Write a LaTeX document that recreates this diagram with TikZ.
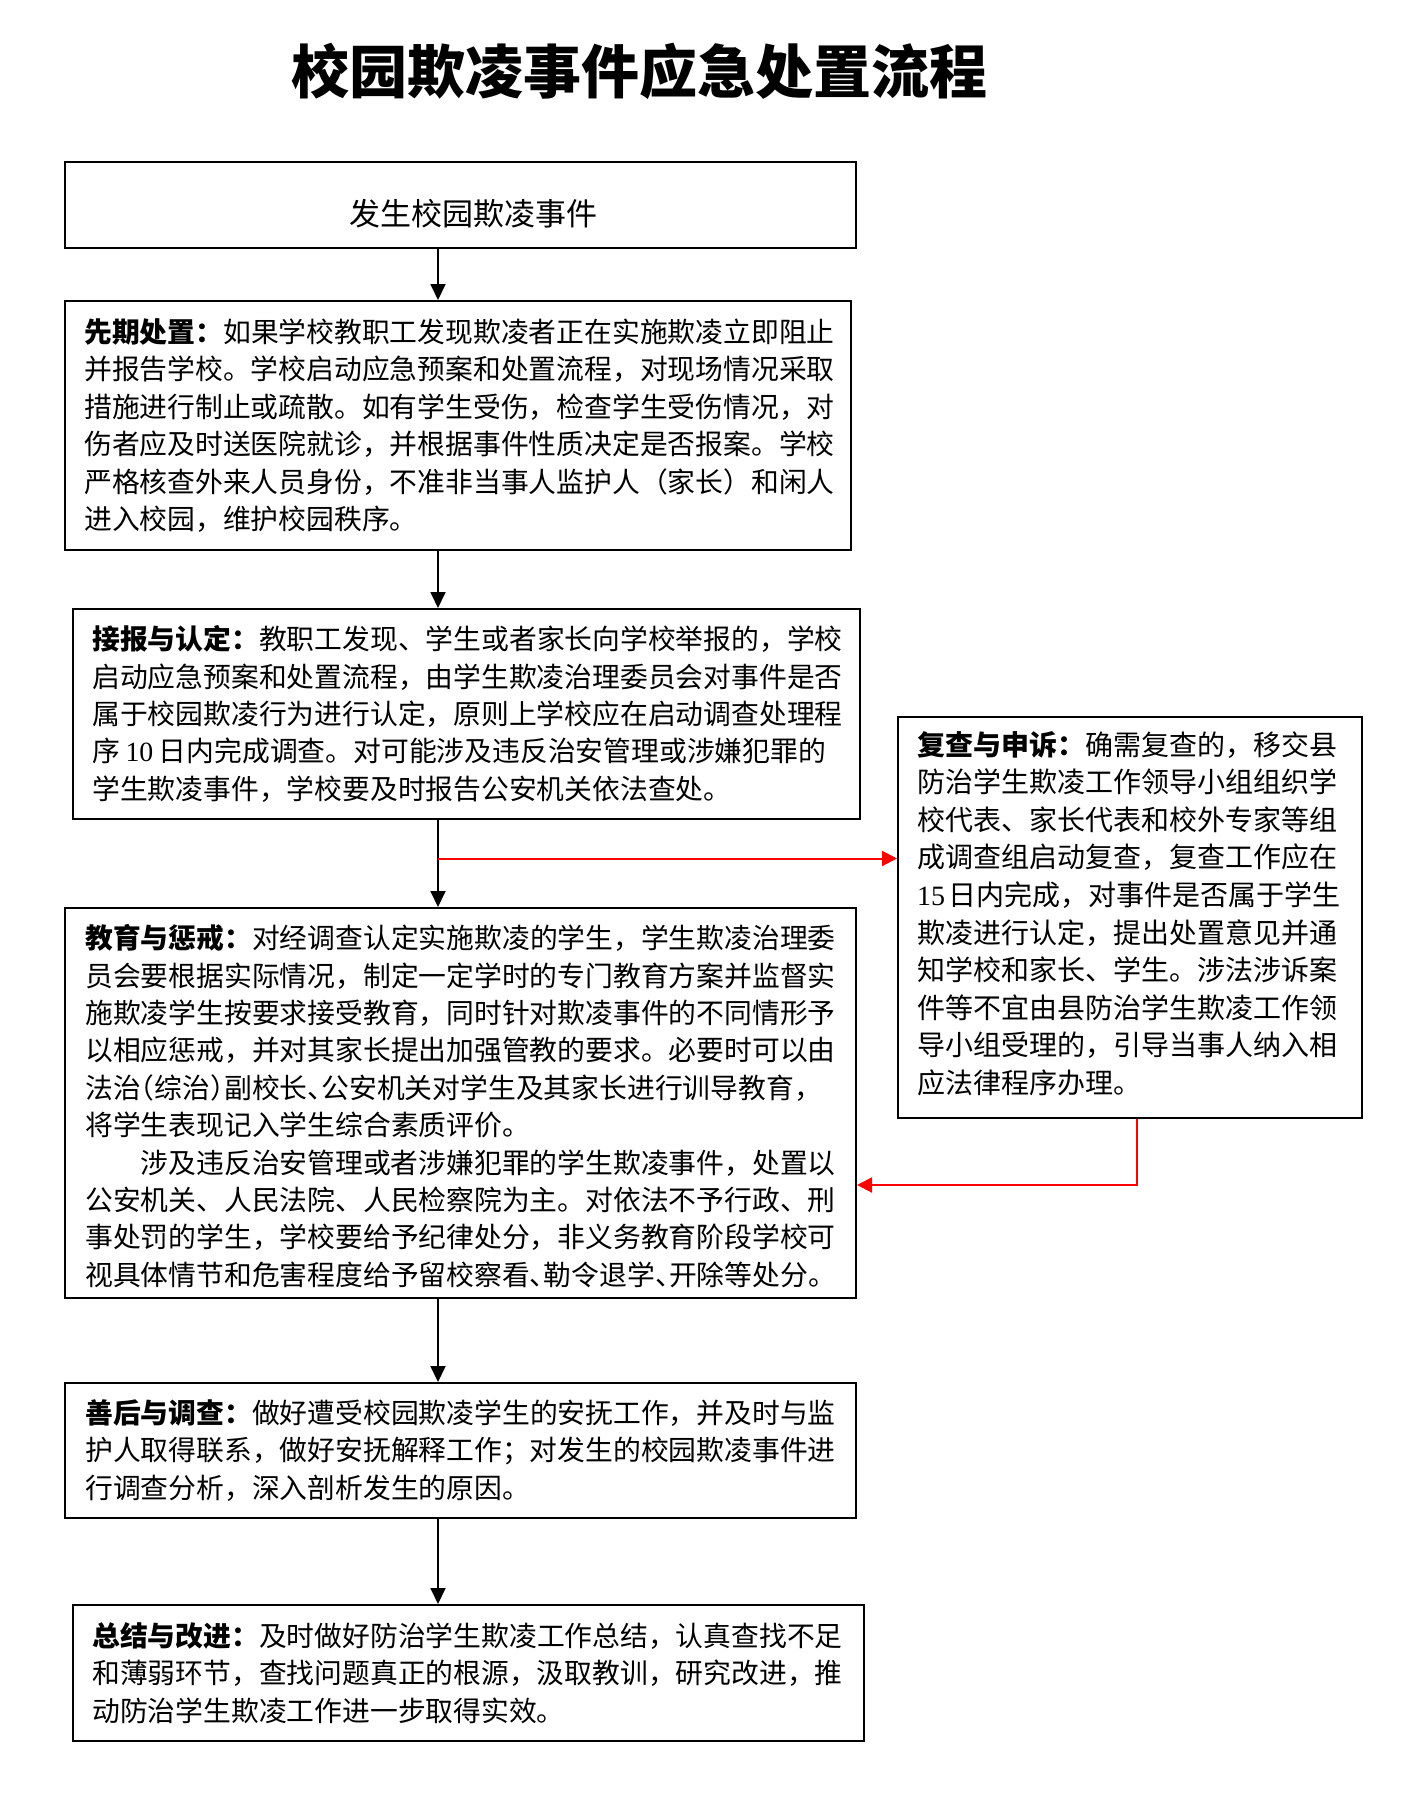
\documentclass[tikz,border=0pt]{standalone}
\usepackage{fontspec}
\setmainfont{Noto Sans CJK SC}
\newfontfamily\numf{Liberation Serif}
\usetikzlibrary{arrows.meta,calc}
\newcommand{\lpc}{\kern-.5em（}
\newcommand{\rpc}{）\kern-.5em}
\newcommand{\dnc}{、\kern-.5em}
\begin{document}
\begin{tikzpicture}[x=1pt,y=-1pt,
  box/.style={draw, line width=2pt, rectangle, inner sep=0pt, anchor=north west},
  txt/.style={anchor=west, align=left, inner sep=0pt, text width=770pt,
              font=\fontsize{27.8}{37.4}\selectfont},
  arr/.style={line width=1.8pt, -{Triangle[length=16pt,width=15pt]}},
  redarr/.style={red, line width=2pt, -{Triangle[length=15pt,width=15pt]}}]

\useasboundingbox (0,0) rectangle (1419,1805);

% title
\node[font=\fontsize{58}{60}\selectfont\bfseries] (title) at (639,71) {校园欺凌事件应急处置流程};

% boxes
\node[box, minimum width=791pt, minimum height=86pt]  (b1) at (64,161) {};
\node[box, minimum width=786pt, minimum height=249pt] (b2) at (64,300) {};
\node[box, minimum width=787pt, minimum height=210pt] (b3) at (72,608) {};
\node[box, minimum width=791pt, minimum height=390pt] (b4) at (64,907) {};
\node[box, minimum width=464pt, minimum height=401pt] (b5) at (897,716) {};
\node[box, minimum width=791pt, minimum height=135pt] (b6) at (64,1382) {};
\node[box, minimum width=791pt, minimum height=136pt] (b7) at (72,1604) {};

% texts
\node[font=\fontsize{31}{33}\selectfont] (t1) at (473,214) {发生校园欺凌事件};

\node[txt] (t2) at ([xshift=20pt]b2.west) {%
{\bfseries 先期处置：}如果学校教职工发现欺凌者正在实施欺凌立即阻止\\
并报告学校。学校启动应急预案和处置流程，对现场情况采取\\
措施进行制止或疏散。如有学生受伤，检查学生受伤情况，对\\
伤者应及时送医院就诊，并根据事件性质决定是否报案。学校\\
严格核查外来人员身份，不准非当事人监护人（家长）和闲人\\
进入校园，维护校园秩序。};

\node[txt] (t3) at ([xshift=20pt]b3.west) {%
{\bfseries 接报与认定：}教职工发现、学生或者家长向学校举报的，学校\\
启动应急预案和处置流程，由学生欺凌治理委员会对事件是否\\
属于校园欺凌行为进行认定，原则上学校应在启动调查处理程\\
序\kern.2em{\numf 10}\kern.2em 日内完成调查。对可能涉及违反治安管理或涉嫌犯罪的\\
学生欺凌事件，学校要及时报告公安机关依法查处。};

\node[txt] (t4) at ([xshift=21pt,yshift=-3pt]b4.west) {%
{\bfseries 教育与惩戒：}对经调查认定实施欺凌的学生，学生欺凌治理委\\
员会要根据实际情况，制定一定学时的专门教育方案并监督实\\
施欺凌学生按要求接受教育，同时针对欺凌事件的不同情形予\\
以相应惩戒，并对其家长提出加强管教的要求。必要时可以由\\
法治\lpc 综治\rpc 副校长\dnc 公安机关对学生及其家长进行训导教育，\\
将学生表现记入学生综合素质评价。\\
\hspace*{2em}涉及违反治安管理或者涉嫌犯罪的学生欺凌事件，处置以\\
公安机关、人民法院、人民检察院为主。对依法不予行政、刑\\
事处罚的学生，学校要给予纪律处分，非义务教育阶段学校可\\
视具体情节和危害程度给予留校察看\dnc 勒令退学\dnc 开除等处分。};

\node[txt, text width=440pt, font=\fontsize{28}{37.6}\selectfont] (t5) at ([xshift=20pt,yshift=4pt]b5.west) {%
{\bfseries 复查与申诉：}确需复查的，移交县\\
防治学生欺凌工作领导小组组织学\\
校代表、家长代表和校外专家等组\\
成调查组启动复查，复查工作应在\\
{\numf 15}\kern.1em 日内完成，对事件是否属于学生\\
欺凌进行认定，提出处置意见并通\\
知学校和家长、学生。涉法涉诉案\\
件等不宜由县防治学生欺凌工作领\\
导小组受理的，引导当事人纳入相\\
应法律程序办理。};

\node[txt] (t6) at ([xshift=21pt]b6.west) {%
{\bfseries 善后与调查：}做好遭受校园欺凌学生的安抚工作，并及时与监\\
护人取得联系，做好安抚解释工作；对发生的校园欺凌事件进\\
行调查分析，深入剖析发生的原因。};

\node[txt] (t7) at ([xshift=20pt]b7.west) {%
{\bfseries 总结与改进：}及时做好防治学生欺凌工作总结，认真查找不足\\
和薄弱环节，查找问题真正的根源，汲取教训，研究改进，推\\
动防治学生欺凌工作进一步取得实效。};

% connectors
\coordinate (ax) at (438,0);
\coordinate (r1) at (438,858.5);
\coordinate (r2) at (1137,1185);

\draw[arr] (b1.south -| ax) -- (b2.north -| ax);
\draw[arr] (b2.south -| ax) -- (b3.north -| ax);
\draw[arr] (b3.south -| ax) -- (b4.north -| ax);
\draw[arr] (b4.south -| ax) -- (b6.north -| ax);
\draw[arr] (b6.south -| ax) -- (b7.north -| ax);

\draw[redarr] (r1) -- (r1 -| b5.west);
\draw[redarr] (b5.south -| r2) -- (r2) -- (r2 -| b4.east);
\end{tikzpicture}
\end{document}
